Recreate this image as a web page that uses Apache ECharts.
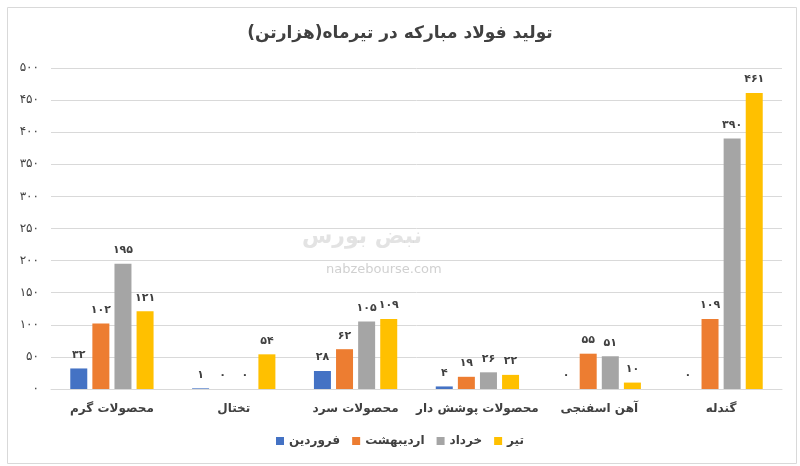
<!DOCTYPE html>
<html>
<head>
<meta charset="utf-8">
<script src="https://cdn.jsdelivr.net/npm/echarts@6/dist/echarts.min.js"></script>
<style>
  html, body { margin: 0; padding: 0; background: #fff; }
  #chart { width: 800px; height: 466px; }
</style>
</head>
<body>
<div id="chart"></div>
<script>
const categories = ['محصولات گرم', 'تختال', 'محصولات سرد', 'محصولات پوشش دار', 'آهن اسفنجی', 'گندله']
const seriesNames = ['فروردین', 'اردیبهشت', 'خرداد', 'تیر']
const farvardin = [32, 1, 28, 4, 0, 0]
const ordibehesht = [102, 0, 62, 19, 55, 109]
const khordad = [195, 0, 105, 26, 51, 390]
const tir = [121, 54, 109, 22, 10, 461]
const colors = ['#4472C4', '#ED7D31', '#A5A5A5', '#FFC000']

const FONT = '"DejaVu Sans", sans-serif'

// persian digits for labels
let fa = n => String(n).replace(/\d/g, d => '۰۱۲۳۴۵۶۷۸۹'[d])

let $ = s => document.querySelector(s)
const chart = echarts.init($('#chart'))

const seriesData = [farvardin, ordibehesht, khordad, tir]

const option = {
  animation: false,
  textStyle: { fontFamily: FONT },
  title: {
    text: 'تولید فولاد مبارکه در تیرماه(هزارتن)',
    left: 'center',
    top: 20,
    textStyle: { fontFamily: FONT, fontSize: 17, fontWeight: 'bold', color: '#404040' }
  },
  graphic: [
    {
      type: 'rect', left: 5, top: 5, z: -10,
      shape: { width: 789, height: 456 },
      style: { fill: 'none', stroke: '#d9d9d9', lineWidth: 1 }
    },
    {
      type: 'text', left: 302, top: 226, z: 0, silent: true,
      style: { text: 'نبض بورس', font: 'bold 22px ' + FONT, fill: 'rgba(185,185,185,0.4)' }
    },
    {
      type: 'text', left: 326, top: 263, z: 0, silent: true,
      style: { text: 'nabzebourse.com', font: '13px ' + FONT, fill: 'rgba(170,170,170,0.55)' }
    }
  ],
  legend: {
    data: seriesNames,
    bottom: 14,
    left: 'center',
    icon: 'rect',
    itemWidth: 8,
    itemHeight: 8,
    itemGap: 12,
    textStyle: { fontFamily: FONT, fontSize: 12, fontWeight: 'bold', color: '#404040' }
  },
  grid: { left: 51, right: 18, top: 68, bottom: 77 },
  xAxis: {
    type: 'category',
    data: categories,
    axisTick: { show: false },
    axisLine: { lineStyle: { color: '#d9d9d9' } },
    axisLabel: { interval: 0, fontFamily: FONT, fontSize: 12, fontWeight: 'bold', color: '#404040', margin: 14 }
  },
  yAxis: {
    type: 'value',
    min: 0,
    max: 500,
    interval: 50,
    axisLine: { show: false },
    axisTick: { show: false },
    splitLine: { lineStyle: { color: '#d9d9d9' } },
    axisLabel: { fontFamily: FONT, fontSize: 12, color: '#404040', margin: 12, formatter: v => fa(v) }
  },
  series: seriesNames.map((name, i) => ({
    name: name,
    type: 'bar',
    data: seriesData[i],
    barWidth: 17,
    barGap: '30%',
    itemStyle: { color: colors[i] },
    label: {
      show: true,
      position: 'top',
      distance: 8,
      fontFamily: FONT,
      fontSize: 11,
      fontWeight: 'bold',
      color: '#404040',
      formatter: p => fa(p.value)
    }
  }))
}

chart.setOption(option)
</script>
</body>
</html>
